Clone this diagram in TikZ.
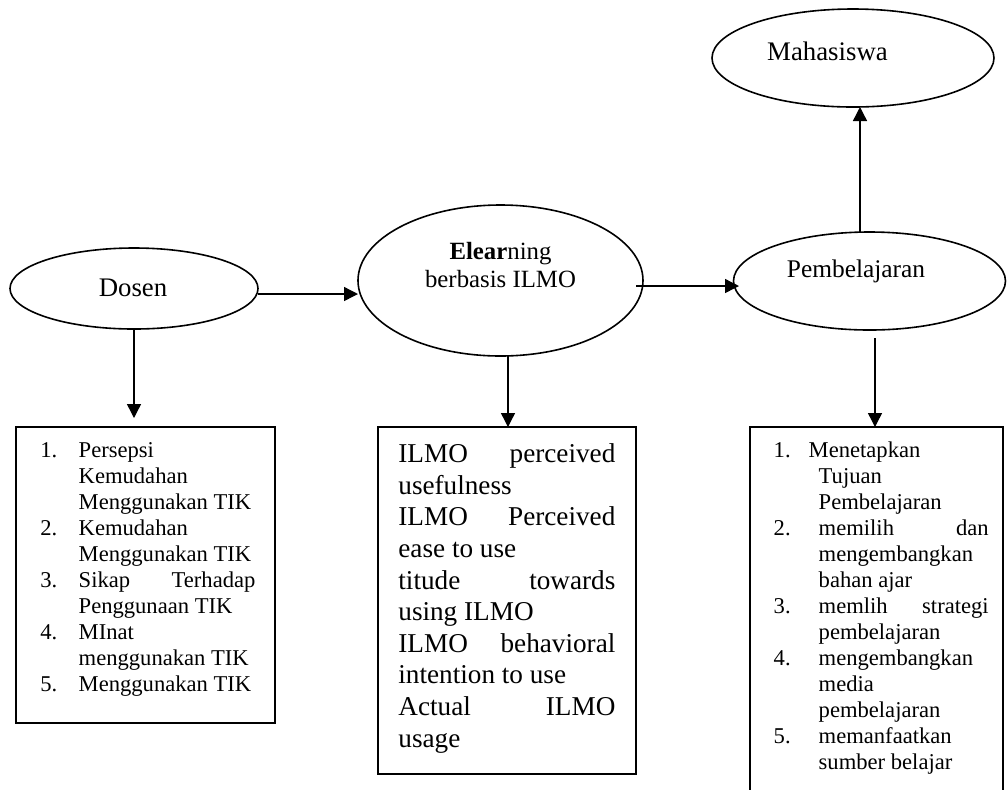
\documentclass[tikz,border=0pt]{standalone}
\usepackage{fontspec}
\setmainfont{Liberation Serif}
\usetikzlibrary{arrows.meta,shapes.geometric}
\newlength\numw
\newcommand{\listitem}[1]{\par\noindent\hangindent=\numw\hangafter=0\llap{\makebox[\numw][l]{#1}}}
\tikzset{
  oval/.style={ellipse, draw, line width=0.8pt, inner sep=0pt, outer sep=0pt},
  listbox/.style={rectangle, draw, line width=0.9pt, inner sep=0pt, outer sep=0pt, anchor=north west},
  ovaltext/.style={inner sep=0pt},
  itemtext/.style={anchor=base west, inner sep=0pt},
  arr/.style={-{Triangle[length=7pt,width=7pt]}, line width=0.7pt},
}
\begin{document}
\begin{tikzpicture}[x=0.5pt,y=-0.5pt]
  \path[use as bounding box, fill=white] (0,0) rectangle (1008,789);
  % ellipses
  \node[oval, minimum width=124pt, minimum height=40.5pt] (dosen) at (134,288.5) {};
  \node[oval, minimum width=142.5pt, minimum height=75.5pt] (elearning) at (500.5,280.5) {};
  \node[oval, minimum width=136pt, minimum height=49pt] (pembelajaran) at (869.5,281) {};
  \node[oval, minimum width=141pt, minimum height=49pt] (mahasiswa) at (853,58) {};
  \node[ovaltext, font=\fontsize{13.4pt}{16pt}\selectfont] (dosenText) at (133,288) {Dosen};
  \node[ovaltext, align=center, font=\fontsize{12.4pt}{14pt}\selectfont] (elearningText) at (500.5,265) {\textbf{Elear}ning\\berbasis ILMO};
  \node[ovaltext, font=\fontsize{12.7pt}{15pt}\selectfont] (pembelajaranText) at (856,271.5) {Pembelajaran};
  \node[ovaltext, font=\fontsize{13.4pt}{16pt}\selectfont] (mahasiswaText) at (827.5,51) {Mahasiswa};
  % boxes
  \node[listbox, minimum width=129.5pt, minimum height=148pt] (dosenList) at (16,427) {};
  \node[listbox, minimum width=129pt, minimum height=173.5pt] (ilmoList) at (378,427) {};
  \node[listbox, minimum width=126.5pt, minimum height=190pt] (pembelajaranList) at (750,427) {};
  \node[itemtext, font=\fontsize{11.3pt}{13pt}\selectfont] (dosenItems) at (40,457.5) {\parbox[t]{107.5pt}{\setlength\numw{19.15pt}%
    \listitem{1.}Persepsi\\Kemudahan\\Menggunakan TIK
    \listitem{2.}Kemudahan\\Menggunakan TIK
    \listitem{3.}Sikap\hfill Terhadap\\Penggunaan TIK
    \listitem{4.}MInat\\menggunakan TIK
    \listitem{5.}Menggunakan TIK}};
  \node[itemtext, font=\fontsize{13.6pt}{15.8pt}\selectfont] (ilmoItems) at (398,462.7) {\parbox[t]{108.5pt}{%
    ILMO\hfill perceived\\usefulness\\ILMO\hfill Perceived\\ease to use\\titude\hfill towards\\using ILMO\\ILMO\hfill behavioral\\intention to use\\Actual\hfill ILMO\\usage}};
  \node[itemtext, font=\fontsize{11.3pt}{13pt}\selectfont] (pembelajaranItems) at (773.3,457) {\parbox[t]{107.5pt}{\setlength\numw{22.5pt}%
    \listitem{1.}\hspace*{-5pt}Menetapkan\\Tujuan\\Pembelajaran
    \listitem{2.}memilih\hfill dan\\mengembangkan\\bahan ajar
    \listitem{3.}memlih\hfill strategi\\pembelajaran
    \listitem{4.}mengembangkan\\media\\pembelajaran
    \listitem{5.}memanfaatkan\\sumber belajar}};
  % arrows
  \draw[arr] ([yshift=-2.75pt]dosen.east) -- ([yshift=-2.75pt]dosen.east -| elearning.west);
  \draw[arr, shorten >=-2.75pt] ([xshift=-3.5pt,yshift=-2.75pt]elearning.east) -- ([yshift=-2.75pt]elearning.east -| pembelajaran.west);
  \draw[arr] ([xshift=-4.75pt]pembelajaran.north) -- ([xshift=-4.75pt]pembelajaran.north |- mahasiswa.south);
  \draw[arr, shorten >=4.5pt] (dosen.south) -- (dosen.south |- dosenList.north);
  \draw[arr] ([xshift=3.75pt]elearning.south) -- ([xshift=3.75pt]elearning.south |- ilmoList.north);
  \draw[arr, shorten <=4pt] ([xshift=2.75pt]pembelajaran.south) -- ([xshift=2.75pt]pembelajaran.south |- pembelajaranList.north);
\end{tikzpicture}
\end{document}
